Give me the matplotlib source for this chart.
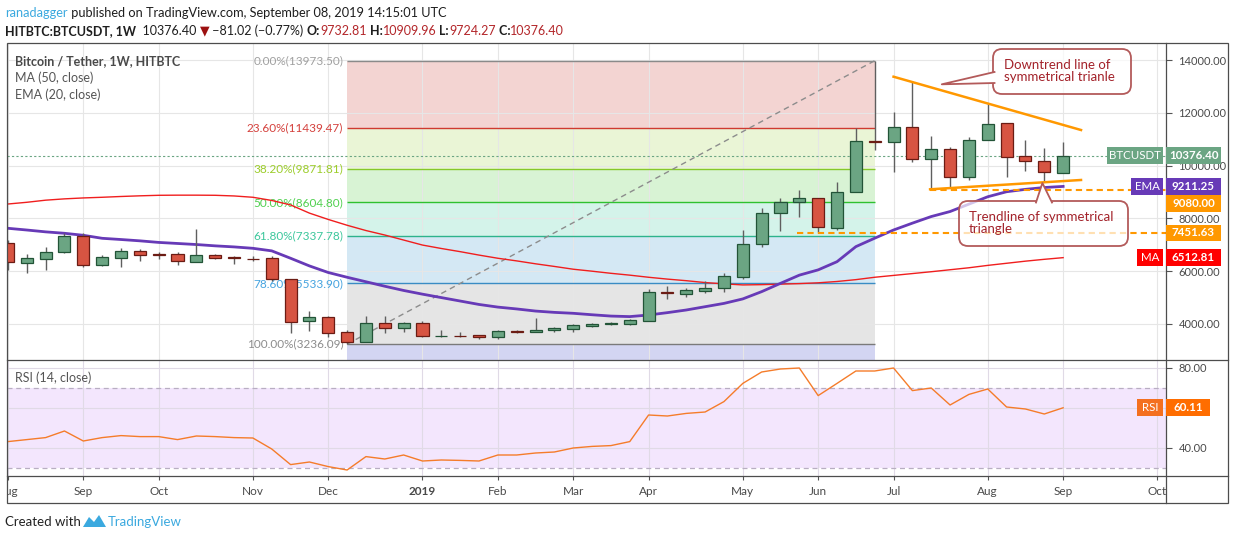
import numpy as np
import matplotlib
matplotlib.use('Agg')
import matplotlib.pyplot as plt
from matplotlib.patches import Rectangle, FancyBboxPatch, Polygon

plt.rcParams['font.family'] = ['Lato', 'DejaVu Sans']

# weekly candles, HITBTC:BTCUSDT, week of 2018-08-06 .. 2019-09-02
opens = [7056, 6322, 6473, 6715, 7333, 6246, 6511, 6765, 6660, 6651,
         6360, 6602, 6530, 6480, 6488, 5693, 4102, 4265, 3686, 3329,
         4026, 3837, 4026, 3530, 3560, 3575, 3500, 3720, 3690, 3765,
         3825, 3940, 3990, 4012, 4125, 5200, 5150, 5265, 5356, 5794,
         7030, 8190, 8630, 8760, 7620, 8990, 10950, 10900, 11450, 10240,
         10620, 9560, 10970, 11600, 10360, 10160, 9732.81]
highs = [7182, 6651, 6928, 7436, 7436, 6613, 6867, 6830, 6740, 6740,
         7587, 6651, 6575, 6560, 6575, 5693, 4492, 4303, 3773, 4303,
         4303, 4090, 4115, 3773, 3686, 3575, 3773, 3760, 4240, 3900,
         3990, 4040, 4060, 4200, 5325, 5440, 5380, 5630, 5920, 7560,
         8380, 8760, 9080, 8760, 9390, 11436, 13973.5, 12040, 13200, 11120,
         10690, 11070, 12360, 11600, 10970, 10655, 10909.96]
lows = [6045, 5943, 6045, 6700, 6170, 6197, 6170, 6398, 6473, 6235,
        6350, 6473, 6284, 6398, 5620, 3670, 3746, 3519, 3236.09, 3329,
        3648, 3712, 3519, 3519, 3496, 3420, 3450, 3640, 3690, 3700,
        3700, 3900, 3960, 3980, 4125, 4935, 5010, 5160, 5226, 5693,
        6930, 7530, 8060, 7500, 7560, 8990, 10580, 9770, 10150, 9100,
        9200, 9450, 10970, 9580, 9810, 9370, 9724.27]
closes = [6337, 6488, 6727, 7333, 6246, 6526, 6765, 6624, 6630, 6375,
          6602, 6511, 6490, 6460, 5693, 4087, 4265, 3670, 3329, 4026,
          3837, 4026, 3545, 3560, 3545, 3500, 3727, 3690, 3765, 3850,
          3950, 4000, 4026, 4150, 5200, 5170, 5280, 5356, 5807, 7018,
          8190, 8630, 8760, 7660, 8990, 10930, 10900, 11450, 10240, 10620,
          9560, 10970, 11560, 10340, 10160, 9745, 10376.40]

ma50 = [8545, 8610, 8690, 8740, 8775, 8800, 8830, 8855, 8875, 8880,
        8880, 8875, 8850, 8800, 8680, 8510, 8200, 7960, 7740, 7540,
        7370, 7180, 6990, 6860, 6740, 6610, 6490, 6390, 6280, 6180,
        6075, 6000, 5920, 5850, 5770, 5700, 5640, 5570, 5520, 5480,
        5490, 5510, 5530, 5560, 5610, 5680, 5770, 5840, 5910, 5980,
        6055, 6130, 6220, 6300, 6380, 6450, 6512.81]
ema20 = [7625, 7560, 7490, 7436, 7360, 7246, 7200, 7150, 7090, 7050,
         7010, 6960, 6920, 6867, 6770, 6490, 6200, 5950, 5770, 5600,
         5430, 5270, 5130, 5000, 4870, 4740, 4640, 4570, 4490, 4440,
         4405, 4350, 4300, 4280, 4340, 4430, 4530, 4655, 4780, 4950,
         5225, 5540, 5850, 6050, 6360, 6930, 7250, 7560, 7820, 8070,
         8260, 8540, 8820, 9010, 9100, 9170, 9211.25]
rsi = [43.2, 44.2, 45.2, 48.5, 43.5, 45.2, 46.2, 45.7, 45.7, 44.2,
       46.0, 45.7, 45.2, 45.0, 39.5, 31.7, 33.0, 30.7, 29.0, 35.7,
       34.5, 36.5, 33.5, 34.0, 33.8, 33.5, 36.5, 36.5, 37.5, 38.0,
       40.0, 40.8, 41.2, 43.2, 56.5, 56.0, 57.3, 58.0, 63.2, 72.3,
       78.0, 79.5, 80.0, 66.2, 72.3, 78.5, 78.5, 80.0, 68.7, 70.0,
       61.5, 66.8, 69.5, 60.5, 59.5, 57.0, 60.11]

month_idx = [0, 4, 8, 13, 17, 22, 26, 30, 34, 39, 43, 47, 52, 56, 61]
month_labels = ['Aug', 'Sep', 'Oct', 'Nov', 'Dec', '2019', 'Feb', 'Mar',
                'Apr', 'May', 'Jun', 'Jul', 'Aug', 'Sep', 'Oct']
price_ticks = [4000, 6000, 8000, 10000, 12000, 14000]
rsi_ticks = [40, 60, 80]
rsi_tick_labels = ['40.00', '', '80.00']  # 60.00 sits under the RSI badge

# fibonacci retracement drawn from the Dec-10 low to the Jun-24 high
fib_start, fib_end = 18, 46
fib_pct = [0.0, 23.6, 38.2, 50.0, 61.8, 78.6, 100.0]
fib_vals = [13973.50, 11439.47, 9871.81, 8604.80, 7337.78, 5533.90, 3236.09]
fib_fill = ['#f3d4d2', '#eaf5d6', '#d8f3d4', '#d4f3ea', '#d4e8f4', '#e5e5e5']
fib_line = ['#8a8a8a', '#cf3a30', '#86c82a', '#2fc12f', '#2db38c', '#3a8cc4', '#7a7a7a']
fib_text = ['#a0a0a0', '#d4403c', '#9ccd2a', '#4fd04f', '#3cc79c', '#45a3df', '#8c8c8c']

# symmetrical triangle drawings
down_line = ([47, 56.95], [13367, 11348])
up_line = ([48.94, 56.95], [9102, 9455])
level_9080 = (48.94, 9080.00)
level_7451 = (41.9, 7451.63)

last_price = 10376.40
W, H = 1234, 540
GREEN, GREEN_E = '#6ba583', '#225437'
RED, RED_E = '#d75442', '#6b1c14'


def frac(x0, y0, x1, y1):
	return [x0 / W, 1 - y1 / H, (x1 - x0) / W, (y1 - y0) / H]


fig = plt.figure(figsize=(W / 100, H / 100), dpi=100)
ax = fig.add_axes(frac(7, 43, 1166, 360))
axr = fig.add_axes(frac(7, 360, 1166, 476), sharex=ax)
axx = fig.add_axes(frac(7, 476, 1166, 503), sharex=ax)
ov = fig.add_axes([0, 0, 1, 1])
ov.set_xlim(0, W)
ov.set_ylim(H, 0)
ov.axis('off')

idx = np.arange(len(closes))
ax.set_xlim(-0.05, 61.46)
ax.set_ylim(2636, 14644)

# ---- price panel
for s in ax.spines.values():
	s.set_visible(False)
ax.yaxis.tick_right()
ax.set_yticks(price_ticks)
ax.set_yticklabels([f'{v:.2f}' for v in price_ticks])
ax.tick_params(axis='y', length=4, width=0.8, color='#555555', labelcolor='#4a4a4a', labelsize=8, pad=5)
ax.set_xticks(month_idx)
ax.tick_params(axis='x', length=0, labelbottom=False)
ax.grid(True, color='#e6e6e6', lw=0.8)
ax.set_axisbelow(True)

# fib box
for i in range(len(fib_vals) - 1):
	ax.fill_between([fib_start, fib_end], fib_vals[i + 1], fib_vals[i], color=fib_fill[i], lw=0, zorder=0.2)
ax.fill_between([fib_start, fib_end], ax.get_ylim()[0], fib_vals[-1], color='#d3d5f2', lw=0, zorder=0.2)
for p, v, lc, tc in zip(fib_pct, fib_vals, fib_line, fib_text):
	ax.hlines(v, fib_start, fib_end, color=lc, lw=1, zorder=1)
	ax.text(fib_start - 0.2, v, f'{p:.2f}%({v:.2f})', ha='right', va='center', color=tc, fontsize=8.5, zorder=2)
ax.plot([fib_start, fib_end], [fib_vals[-1], fib_vals[0]], color='#8c8c8c', lw=1, ls=(0, (4, 3)), zorder=1)

# moving averages
ax.plot(idx, ma50, color='#f01e1e', lw=1, zorder=3)
ax.plot(idx, ema20, color='#673ab7', lw=2, zorder=3)

# candles
o = np.array(opens)
c = np.array(closes)
up = c >= o
ax.vlines(idx, lows, highs, color='#5f5f5f', lw=1, zorder=4)
ax.bar(idx[up], (c - o)[up], bottom=o[up], width=0.64, color=GREEN, edgecolor=GREEN_E, lw=0.9, zorder=5)
ax.bar(idx[~up], (o - c)[~up], bottom=c[~up], width=0.64, color=RED, edgecolor=RED_E, lw=0.9, zorder=5)

ax.axhline(last_price, color=GREEN, lw=0.8, ls=(0, (2, 2)), zorder=2)

# triangle lines
ax.plot(down_line[0], down_line[1], color='#ff9800', lw=1.8, zorder=6)
ax.plot(up_line[0], up_line[1], color='#ff9800', lw=1.8, zorder=6)
ax.hlines(level_9080[1], level_9080[0], 61.46, color='#ff9800', lw=1.5, ls=(0, (3, 2)), zorder=6)
ax.hlines(level_7451[1], level_7451[0], 61.46, color='#ff9800', lw=1.5, ls=(0, (3, 2)), zorder=6)

# ---- RSI panel
for s in axr.spines.values():
	s.set_visible(False)
axr.set_ylim(26, 84)
axr.axhspan(30, 70, color='#f3e6fd', lw=0, zorder=0.2)
axr.axhline(70, color='#b8aec2', lw=0.9, ls=(0, (4, 3)), zorder=1)
axr.axhline(30, color='#b8aec2', lw=0.9, ls=(0, (4, 3)), zorder=1)
axr.plot(idx, rsi, color='#f57c2a', lw=1, zorder=3)
axr.yaxis.tick_right()
axr.set_yticks(rsi_ticks)
axr.set_yticklabels(rsi_tick_labels)
axr.tick_params(axis='y', length=4, width=0.8, color='#555555', labelcolor='#4a4a4a', labelsize=8, pad=5)
axr.set_xticks(month_idx)
axr.tick_params(axis='x', length=3, width=0.8, color='#555555', labelbottom=False)
axr.grid(True, color='#e0dae6', lw=0.8)
axr.set_axisbelow(True)

# month labels, clipped at the panel edges like the original
axx.axis('off')
for m, lab in zip(month_idx, month_labels):
	t = axx.text(m, 0.42, lab, ha='center', va='center', transform=axx.get_xaxis_transform(),
	             fontsize=8.5, color='#4a4a4a', fontweight='bold' if lab == '2019' else 'normal', clip_on=True)
	t.set_clip_box(axx.bbox)

# ---- overlay in pixel coords
fc = '#4d4d4d'
ov.add_patch(Rectangle((7, 43), 1221, 460, fill=False, ec=fc, lw=0.9, zorder=4))
ov.plot([1166, 1166], [43, 503], color=fc, lw=0.9, zorder=4)
ov.plot([7, 1228], [360, 360], color=fc, lw=0.9, zorder=4)
ov.plot([7, 1228], [476, 476], color=fc, lw=0.9, zorder=4)


def py(axis, v):
	return H - axis.transData.transform((0, v))[1]


def to_px(axis, x, y):
	d = axis.transData.transform((x, y))
	return d[0], H - d[1]


def badge(x0, x1, yc, text, color, bold=True):
	ov.add_patch(Rectangle((x0, yc - 8.3), x1 - x0, 16.6, color=color, lw=0, zorder=5))
	ov.text((x0 + x1) / 2, yc, text, color='white', fontsize=8.3, ha='center', va='center',
	        fontweight='bold' if bold else 'normal', zorder=6)


y_ema = py(ax, ema20[-1])
badge(1107, 1163, py(ax, last_price), 'BTCUSDT', GREEN, bold=False)
badge(1166, 1221, py(ax, last_price), f'{last_price:.2f}', GREEN)
badge(1131, 1163, y_ema, 'EMA', '#673ab7', bold=False)
badge(1166, 1221, y_ema, f'{ema20[-1]:.2f}', '#673ab7')
badge(1166, 1221, y_ema + 17, f'{level_9080[1]:.2f}', '#ff9800')
badge(1166, 1221, py(ax, level_7451[1]), f'{level_7451[1]:.2f}', '#ff9800')
badge(1137, 1163, py(ax, ma50[-1]), 'MA', '#ff0000', bold=False)
badge(1166, 1221, py(ax, ma50[-1]), f'{ma50[-1]:.2f}', '#ff0000')
badge(1137, 1163, py(axr, rsi[-1]), 'RSI', '#f4701f', bold=False)
badge(1166, 1210, py(axr, rsi[-1]), f'{rsi[-1]:.2f}', '#ff6d00')


def callout(x0, y0, x1, y1, base, tip, lines, tx, ty):
	ec = '#b35a5a'
	ov.add_patch(FancyBboxPatch((x0, y0), x1 - x0, y1 - y0, boxstyle='round,pad=0,rounding_size=9',
	                            fc=(1, 1, 1, 0.7), ec=ec, lw=1.3, zorder=7))
	ov.add_patch(Polygon([base[0], tip, base[1]], closed=True, fc='white', ec='none', zorder=7.5))
	ov.plot([base[0][0], tip[0], base[1][0]], [base[0][1], tip[1], base[1][1]], color=ec, lw=1.3, zorder=8)
	for k, s in enumerate(lines):
		ov.text(tx, ty + k * 11.6, s, color='#a3222a', fontsize=9.5, ha='left', va='center', zorder=9)


tip1 = to_px(ax, 49.56, 13079)
callout(993, 49, 1131, 94, [(994.5, 72), (994.5, 83)], tip1, ['Downtrend line of', 'symmetrical trianle'], 1004, 65)
tip2 = to_px(ax, 54.9, 9341)
callout(959, 201, 1128, 246, [(1036, 202.5), (1052, 202.5)], tip2, ['Trendline of symmetrical', 'triangle'], 969, 217)

# legends
ov.text(15, 61, 'Bitcoin / Tether, 1W, HITBTC', color='#4a4a4a', fontsize=9, fontweight='bold', va='center', zorder=9)
ov.text(15, 78, 'MA (50, close)', color='#555555', fontsize=9, va='center', zorder=9)
ov.text(15, 95, 'EMA (20, close)', color='#555555', fontsize=9, va='center', zorder=9)
ov.text(15, 378, 'RSI (14, close)', color='#555555', fontsize=9, va='center', zorder=9)

# header rows, pieces laid out one after another
renderer = fig.canvas.get_renderer()


def put_row(pieces, x, y, size):
	for s, kw in pieces:
		t = ov.text(x, y, s, va='center', ha='left', fontsize=size, zorder=9, **kw)
		x += t.get_window_extent(renderer).width
	return x


dark = {'color': '#1e1e1e'}
bold = {'color': '#1e1e1e', 'fontweight': 'bold'}
red = {'color': '#b3262a'}
put_row([('ranadagger', {'color': '#3ba9df'}),
         (' published on TradingView.com, September 08, 2019 14:15:01 UTC', dark)], 5, 13, 9.2)
put_row([('HITBTC:BTCUSDT, 1W', bold), ('  10376.40 ', dark), ('▼', {'color': '#9c1010', 'family': 'DejaVu Sans'}),
         (' \u221281.02 (\u22120.77%) ', dark), ('O:', bold), ('9732.81', red), (' H:', bold), ('10909.96', red),
         (' L:', bold), ('9724.27', red), (' C:', bold), ('10376.40', red)], 5, 31, 9.0)

# footer
ov.text(5, 522, 'Created with', color='#222222', fontsize=9.5, va='center', zorder=9)
ov.add_patch(Polygon([(83, 527), (89, 517), (94, 522), (99, 515), (106, 527)], closed=True,
                     fc='#3ba9df', ec='none', zorder=9))
ov.text(108, 522, 'TradingView', color='#3ba9df', fontsize=9.5, va='center', zorder=9)

fig.savefig('out.png', dpi=100)
